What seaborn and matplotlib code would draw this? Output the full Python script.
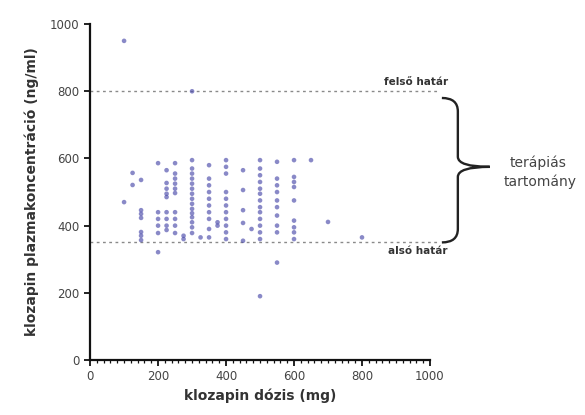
import pandas as pd
import matplotlib
matplotlib.use('Agg')
import matplotlib.pyplot as plt
from matplotlib.path import Path
from matplotlib.patches import PathPatch
from matplotlib.ticker import MultipleLocator
import seaborn as sns

# Klozapin dozis (mg) and the measured plasma concentration (ng/ml), one entry per patient
dozis = ([100] * 2 + [125] * 2 + [150] * 7 + [200] * 6 + [225] * 9 + [250] * 10 + [275] * 2
         + [300] * 16 + [325] * 1 + [350] * 10 + [375] * 2 + [400] * 11 + [450] * 5 + [475] * 1
         + [500] * 14 + [550] * 10 + [600] * 9 + [650, 700, 800])
koncentracio = [950, 470,
                557, 521,
                536, 446, 435, 423, 381, 370, 357,
                586, 440, 420, 400, 378, 321,
                565, 527, 510, 495, 485, 440, 420, 400, 387,
                586, 555, 540, 525, 510, 497, 440, 420, 400, 378,
                370, 360,
                800, 595, 570, 555, 540, 525, 510, 495, 480, 465, 450, 437, 425, 410, 395, 378,
                365,
                580, 540, 520, 500, 480, 460, 440, 420, 390, 365,
                410, 400,
                595, 575, 555, 500, 480, 460, 440, 420, 400, 380, 360,
                565, 506, 446, 408, 355,
                390,
                595, 570, 550, 530, 510, 495, 475, 455, 440, 420, 400, 380, 360, 190,
                590, 540, 520, 500, 475, 455, 430, 400, 380, 290,
                595, 545, 530, 515, 475, 415, 395, 380, 360,
                595, 411, 365]

# Therapeutic range limits
hatarok = [800, 350]
hatarNevek = ['felső határ', 'alsó határ']

pointsDF = pd.DataFrame({'dozis': dozis, 'koncentracio': koncentracio})

sns.set_style('ticks')
plt.rcParams['font.family'] = ['DejaVu Sans']

fig = plt.figure(figsize=(5.85, 4.15), dpi=100)
ax = fig.add_axes([0.154, 0.1325, 0.581, 0.8095])

sns.scatterplot(data=pointsDF, x='dozis', y='koncentracio', ax=ax, color='#4a4aaa',
                s=11, alpha=0.65, edgecolor='none', zorder=3)

# Dashed limit lines with labels
for hatar, nev in zip(hatarok, hatarNevek):
    ax.plot([0, 1030], [hatar, hatar], linestyle=(0, (2, 2.5)), color='#8a8a8a', lw=1,
            clip_on=False, zorder=2)
    if hatar == max(hatarok):
        ax.text(1053, hatar + 12, nev, ha='right', va='bottom', fontsize=7.5,
                fontweight='bold', color='#333333')
    else:
        ax.text(1053, hatar - 12, nev, ha='right', va='top', fontsize=7.5,
                fontweight='bold', color='#333333')

# Curly brace for the therapeutic range
mid = (hatarok[0] + hatarok[1]) / 2
verts = [(1035, hatarok[0] - 20), (1082, hatarok[0] - 20), (1082, hatarok[0] - 60),
         (1082, mid + 30), (1082, mid), (1176, mid),
         (1082, mid), (1082, mid - 30),
         (1082, hatarok[1] + 40), (1082, hatarok[1]), (1035, hatarok[1])]
codes = [Path.MOVETO, Path.CURVE3, Path.CURVE3,
         Path.LINETO, Path.CURVE3, Path.CURVE3,
         Path.CURVE3, Path.CURVE3,
         Path.LINETO, Path.CURVE3, Path.CURVE3]
ax.add_patch(PathPatch(Path(verts, codes), fill=False, lw=1.7, color='#222222', clip_on=False))

fig.text(0.92, 0.607, 'terápiás', ha='center', va='center', fontsize=10, color='#444444')
fig.text(0.923, 0.561, 'tartomány', ha='center', va='center', fontsize=10, color='#444444')

ax.set_xlim(0, 1000)
ax.set_ylim(0, 1000)
ax.xaxis.set_major_locator(MultipleLocator(200))
ax.xaxis.set_minor_locator(MultipleLocator(20))
ax.yaxis.set_major_locator(MultipleLocator(200))
for side in ['top', 'right']:
    ax.spines[side].set_visible(False)
for side in ['left', 'bottom']:
    ax.spines[side].set_linewidth(1.6)
    ax.spines[side].set_color('#111111')
ax.tick_params(axis='both', which='major', length=4, width=1.3, labelsize=8.5,
               labelcolor='#444444', color='#111111')
ax.tick_params(axis='x', which='minor', length=2.5, width=0.9, color='#111111')

ax.set_xlabel('klozapin dózis (mg)', fontsize=10, fontweight='bold', color='#333333', labelpad=4)
ax.set_ylabel('klozapin plazmakoncentráció (ng/ml)', fontsize=10, fontweight='bold',
              color='#333333', labelpad=8)

plt.savefig('out.png', dpi=100)
plt.close()
